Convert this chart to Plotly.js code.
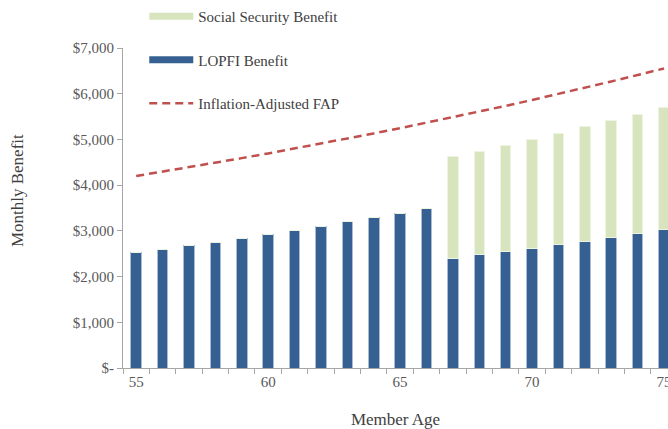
<!DOCTYPE html>
<html>
<head>
<meta charset="utf-8">
<script src="https://cdn.plot.ly/plotly-3.0.1.min.js"></script>
<style>
  html, body { margin: 0; padding: 0; overflow: hidden; background: #fff; }
  #chart { width: 668px; height: 429px; }
</style>
</head>
<body>
<div id="chart"></div>
<script>
// Member ages (categories)
const ages = [55, 56, 57, 58, 59, 60, 61, 62, 63, 64, 65, 66, 67, 68, 69, 70, 71, 72, 73, 74, 75];
// LOPFI monthly benefit
const lopfiBenefit = [2530, 2600, 2670, 2740, 2840, 2925, 3000, 3085, 3195, 3290, 3375, 3485,
                      2400, 2472, 2545, 2618, 2691, 2778, 2851, 2938, 3033];
// Social Security monthly benefit (starts at 67)
const ssBenefit = [0, 0, 0, 0, 0, 0, 0, 0, 0, 0, 0, 0,
                   2231, 2268, 2326, 2377, 2428, 2494, 2559, 2618, 2669];
// Inflation-adjusted final average pay
const fap = [4200, 4295, 4391, 4490, 4591, 4694, 4800, 4908, 5018, 5131, 5246,
             5364, 5485, 5608, 5734, 5863, 5995, 6130, 6268, 6409, 6553];
// Axis ticks
const xTickVals = [55, 60, 65, 70, 75];
const yTickVals = [0, 1000, 2000, 3000, 4000, 5000, 6000, 7000];
const yTickText = ["$-", "$1,000", "$2,000", "$3,000", "$4,000", "$5,000", "$6,000", "$7,000"];

const FONT = 'Liberation Serif, DejaVu Serif, serif';
const BLUE = '#366092';
const GREEN = '#D7E4BD';
const RED = '#C0504D';

const traces = [
  { type: 'bar', x: ages, y: lopfiBenefit, name: 'LOPFI Benefit', showlegend: false,
    marker: { color: BLUE, line: { color: '#A9BCD6', width: 1 } }, hoverinfo: 'x+y' },
  { type: 'bar', x: ages, y: ssBenefit, name: 'Social Security Benefit', showlegend: false,
    marker: { color: GREEN, line: { color: '#EEF4E2', width: 1 } }, hoverinfo: 'x+y' },
  { type: 'scatter', mode: 'lines', x: ages, y: fap, name: 'Inflation-Adjusted FAP', showlegend: false,
    line: { color: RED, width: 2.5, dash: '8px,5px' } },
  // legend entries
  { type: 'scatter', mode: 'lines', x: [null], y: [null], name: 'Social Security Benefit',
    legendgroup: 'a', line: { color: GREEN, width: 7 } },
  { type: 'scatter', mode: 'lines', x: [null], y: [null], name: 'LOPFI Benefit',
    legendgroup: 'b', line: { color: BLUE, width: 7 } },
  { type: 'scatter', mode: 'lines', x: [null], y: [null], name: 'Inflation-Adjusted FAP',
    legendgroup: 'c', line: { color: RED, width: 2.5, dash: '8px,5px' } }
];

const layout = {
  width: 668, height: 429,
  margin: { l: 123, r: 0, t: 48, b: 61, pad: 0 },
  paper_bgcolor: '#ffffff', plot_bgcolor: '#ffffff',
  font: { family: FONT, size: 15, color: '#595959' },
  barmode: 'stack', bargap: 0.6,
  showlegend: true,
  legend: {
    x: 0.039, xanchor: 'left', y: 1.15, yanchor: 'top',
    traceorder: 'grouped', tracegroupgap: 21,
    font: { family: FONT, size: 15, color: '#404040' },
    bgcolor: 'rgba(0,0,0,0)', itemwidth: 44
  },
  xaxis: {
    range: [54.5, 75.15], fixedrange: true,
    tickmode: 'array', tickvals: xTickVals, ticks: '',
    ticklabeloverflow: 'allow',
    showgrid: false, zeroline: false,
    showline: true, linecolor: '#A6A6A6', linewidth: 1,
    tickfont: { family: FONT, size: 15, color: '#595959' },
    minor: { tickmode: 'linear', tick0: 54.5, dtick: 1, ticks: 'outside', ticklen: 5, tickcolor: '#A6A6A6', showgrid: false },
    title: { text: 'Member Age', font: { family: FONT, size: 17, color: '#404040' }, standoff: 24 }
  },
  yaxis: {
    range: [0, 7000], fixedrange: true,
    tickmode: 'array', tickvals: yTickVals, ticktext: yTickText,
    ticks: 'outside', ticklen: 5, tickcolor: '#A6A6A6',
    showgrid: false, zeroline: false,
    showline: true, linecolor: '#A6A6A6', linewidth: 1,
    tickfont: { family: FONT, size: 15, color: '#595959' }
  },
  annotations: [{
    text: 'Monthly Benefit', xref: 'paper', yref: 'paper',
    x: -0.1945, y: 0.556, xanchor: 'center', yanchor: 'middle',
    textangle: -90, showarrow: false,
    font: { family: FONT, size: 17, color: '#404040' }
  }]
};

Plotly.newPlot('chart', traces, layout, { displayModeBar: false, staticPlot: true });
</script>
</body>
</html>
